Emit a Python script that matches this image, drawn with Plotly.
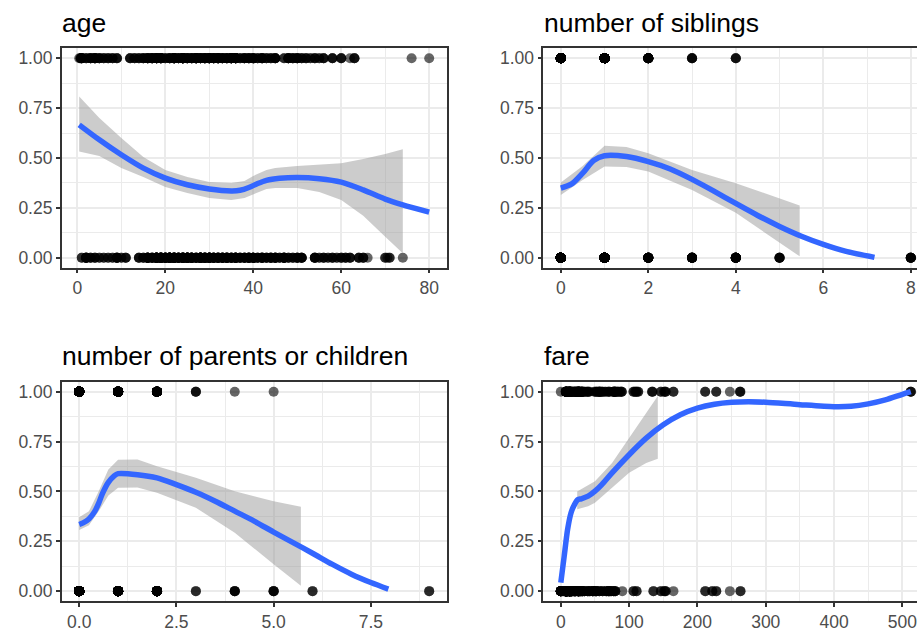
import numpy as np
import plotly.graph_objects as go

# ---------------- data ----------------
# age: points (value, count) for survived (1) and died (0)
age_surv_vals = [0.42, 0.67, 0.83, 0.92, 1, 2, 3, 4, 5, 6, 7, 8, 9, 12, 13, 14, 15, 16, 17, 18, 19, 20,
                 21, 22, 23, 24, 25, 26, 27, 28, 29, 30, 31, 32, 33, 34, 35, 36, 37, 38, 39, 40, 41, 42,
                 43, 44, 45, 47, 48, 49, 50, 51, 52, 53, 54, 55, 56, 58, 60, 62, 63, 76, 80]
age_surv_cnt = [1, 1, 2, 1, 5, 3, 5, 7, 4, 3, 3, 3, 3, 3, 3, 3, 4, 6, 7, 9, 9, 3,
                5, 11, 5, 15, 6, 6, 11, 7, 8, 10, 8, 10, 6, 6, 11, 11, 3, 5, 5, 6, 3, 6,
                3, 3, 5, 2, 6, 4, 5, 3, 3, 2, 3, 2, 3, 3, 3, 1, 3, 1, 1]
age_died_vals = [1, 2, 3, 4, 5, 6, 7, 8, 9, 10, 11, 14, 15, 16, 17, 18, 19, 20, 21, 22, 23, 24, 25, 26,
                 27, 28, 29, 30, 31, 32, 33, 34, 35, 36, 37, 38, 39, 40, 41, 42, 43, 44, 45, 46, 47,
                 48, 49, 50, 51, 54, 55, 56, 57, 58, 59, 60, 61, 62, 64, 65, 66, 70, 70.5, 71, 74]
age_died_cnt = [2, 7, 3, 3, 2, 2, 2, 2, 6, 2, 3, 3, 3, 11, 6, 17, 16, 12, 19, 16, 10, 15, 17, 12,
                7, 18, 12, 15, 9, 9, 9, 10, 7, 11, 5, 6, 9, 9, 4, 7, 4, 6, 7, 3, 8,
                3, 3, 5, 5, 5, 2, 3, 2, 3, 2, 3, 3, 3, 3, 3, 1, 2, 1, 2, 1]

# number of siblings
sib_surv_vals = [0, 1, 2, 3, 4]
sib_surv_cnt = [210, 112, 13, 4, 3]
sib_died_vals = [0, 1, 2, 3, 4, 5, 8]
sib_died_cnt = [398, 97, 15, 12, 15, 5, 7]

# number of parents or children
par_surv_vals = [0, 1, 2, 3, 4, 5]
par_surv_cnt = [233, 65, 40, 3, 1, 1]
par_died_vals = [0, 1, 2, 3, 4, 5, 6, 9]
par_died_cnt = [445, 53, 40, 2, 4, 4, 2, 2]

# fare
fare_surv_vals = [0, 7.25, 7.75, 7.9, 8.05, 9.5, 10.5, 11.13, 12.48, 13, 14.45, 15.25, 16.1, 18.75,
                  20.53, 22.36, 23, 24.15, 26, 26.55, 27.72, 29.7, 30.5, 31.39, 33, 35.5, 39, 41.58,
                  49.5, 52.55, 55.9, 57, 59.4, 61.38, 65, 69.3, 71.28, 76.73, 78.27, 79.2, 80, 83.16,
                  86.5, 89.1, 106.43, 108.9, 110.88, 113.28, 133.65, 134.5, 146.52, 151.55, 153.46,
                  164.87, 211.34, 227.53, 247.52, 262.38, 263, 512.33]
fare_surv_cnt = [1, 3, 6, 4, 5, 2, 3, 3, 2, 12, 2, 3, 3, 3,
                 4, 2, 3, 3, 9, 5, 2, 3, 3, 3, 2, 2, 3, 2,
                 2, 3, 3, 3, 2, 2, 2, 2, 2, 3, 2, 3, 2, 3,
                 2, 3, 2, 2, 2, 2, 2, 1, 2, 2, 2,
                 2, 2, 2, 1, 2, 1, 3]
fare_died_vals = [0, 3, 5, 6.5, 7.05, 7.25, 7.75, 7.9, 8.05, 8.66, 9.5, 10.5, 12.5, 13, 14.5, 15.5,
                  16.1, 18, 20.5, 21, 24.15, 26, 27.72, 29.1, 31.28, 34.38, 39.69, 42.4, 46.9, 50.5,
                  52, 56.5, 61.18, 66.6, 69.55, 71, 73.5, 77.29, 79.65, 90, 106.43, 110.88, 135.63,
                  146.52, 151.55, 153.46, 164.87, 211.5, 221.78, 227.53, 247.52, 263]
fare_died_cnt = [15, 2, 2, 8, 12, 13, 20, 20, 30, 6, 6, 12, 4, 30, 8, 6,
                 6, 4, 6, 6, 5, 16, 4, 4, 6, 4, 4, 3, 6, 3,
                 4, 3, 3, 3, 3, 3, 3, 3, 3, 1, 2, 2, 2,
                 2, 2, 2, 1, 2, 2, 2, 1, 2]

# smooth fits
age_line_x = [0.42, 5, 10, 15, 20, 25, 30, 35, 37, 39, 41, 43, 46, 50, 55, 60, 65, 70, 74, 80]
age_line_y = [0.666, 0.591, 0.516, 0.449, 0.399, 0.366, 0.345, 0.335, 0.338, 0.352, 0.372, 0.388,
              0.398, 0.402, 0.396, 0.379, 0.34, 0.294, 0.265, 0.229]
age_band_x = [0.42, 5, 10, 15, 20, 25, 30, 35, 38, 40, 43, 45, 50, 55, 60, 65, 70, 74]
age_band_hi = [0.808, 0.70, 0.60, 0.505, 0.44, 0.405, 0.38, 0.375, 0.385, 0.41, 0.44, 0.45, 0.46,
               0.466, 0.474, 0.495, 0.52, 0.544]
age_band_lo = [0.532, 0.51, 0.45, 0.405, 0.355, 0.325, 0.30, 0.29, 0.30, 0.32, 0.345, 0.35, 0.35,
               0.33, 0.29, 0.21, 0.105, 0.023]

sib_line_x = [0, 0.25, 0.5, 0.75, 1, 1.5, 2, 2.5, 3, 3.5, 4, 4.5, 5, 5.5, 6, 6.5, 7.17]
sib_line_y = [0.349, 0.37, 0.424, 0.487, 0.511, 0.507, 0.482, 0.445, 0.393, 0.334, 0.272, 0.212,
              0.157, 0.108, 0.067, 0.033, 0.002]
sib_band_x = [0, 0.5, 1, 1.5, 2, 3, 4, 5.46]
sib_band_hi = [0.377, 0.46, 0.562, 0.555, 0.524, 0.44, 0.374, 0.262]
sib_band_lo = [0.315, 0.39, 0.457, 0.455, 0.432, 0.34, 0.225, 0.007]

par_line_x = [0, 0.1, 0.25, 0.4, 0.5, 0.6, 0.75, 0.9, 1, 1.5, 2, 2.5, 3, 3.5, 4, 4.5, 5, 5.5, 6,
              6.5, 7, 7.5, 7.95]
par_line_y = [0.334, 0.342, 0.362, 0.40, 0.44, 0.49, 0.545, 0.578, 0.589, 0.584, 0.568, 0.534,
              0.496, 0.451, 0.401, 0.351, 0.296, 0.243, 0.19, 0.135, 0.085, 0.043, 0.01]
par_band_x = [0, 0.25, 0.5, 0.75, 1, 1.5, 2, 3, 4, 5, 5.7]
par_band_hi = [0.37, 0.40, 0.50, 0.61, 0.659, 0.66, 0.626, 0.568, 0.501, 0.451, 0.423]
par_band_lo = [0.306, 0.33, 0.40, 0.48, 0.518, 0.52, 0.493, 0.418, 0.293, 0.135, 0.027]

fare_line_x = [0, 5, 10, 15, 20, 25, 30, 40, 50, 60, 75, 100, 125, 150, 175, 200, 225, 250, 275,
               300, 350, 400, 425, 450, 475, 500, 512.33]
fare_line_y = [0.043, 0.176, 0.31, 0.393, 0.434, 0.459, 0.463, 0.476, 0.501, 0.534, 0.593, 0.684,
               0.767, 0.834, 0.884, 0.917, 0.937, 0.947, 0.95, 0.947, 0.935, 0.925, 0.927, 0.939,
               0.959, 0.987, 1.0]
fare_band_x = [24, 40, 50, 75, 100, 125, 142]
fare_band_hi = [0.50, 0.529, 0.551, 0.642, 0.767, 0.892, 0.978]
fare_band_lo = [0.41, 0.426, 0.443, 0.518, 0.593, 0.642, 0.664]

titles = ["age", "number of siblings", "number of parents or children", "fare"]

# ---------------- figure ----------------
W, H = 917, 631
fig = go.Figure()

FONT = "Liberation Sans, Arial, Helvetica, sans-serif"
GRID = "#EBEBEB"
DARK = "#333333"

panels = [
    dict(sv=age_surv_vals, sc=age_surv_cnt, dv=age_died_vals, dc=age_died_cnt,
         lx=age_line_x, ly=age_line_y, bx=age_band_x, bh=age_band_hi, bl=age_band_lo),
    dict(sv=sib_surv_vals, sc=sib_surv_cnt, dv=sib_died_vals, dc=sib_died_cnt,
         lx=sib_line_x, ly=sib_line_y, bx=sib_band_x, bh=sib_band_hi, bl=sib_band_lo),
    dict(sv=par_surv_vals, sc=par_surv_cnt, dv=par_died_vals, dc=par_died_cnt,
         lx=par_line_x, ly=par_line_y, bx=par_band_x, bh=par_band_hi, bl=par_band_lo),
    dict(sv=fare_surv_vals, sc=fare_surv_cnt, dv=fare_died_vals, dc=fare_died_cnt,
         lx=fare_line_x, ly=fare_line_y, bx=fare_band_x, bh=fare_band_hi, bl=fare_band_lo),
]

# pixel geometry of panels (left, top); right column clipped at page edge
px_left = [61.7, 543.3, 61.7, 543.3]
px_top = [48.3, 48.3, 381.7, 381.7]
panel_w, panel_h = 385.0, 219.4
full_ranges = [(-3.56, 83.98), (-0.4, 8.4), (-0.45, 9.45), (-25.62, 537.95)]
major = [20, 2, 2.5, 100]
tfmt = ["d", "d", ".1f", "d"]

for i, p in enumerate(panels):
    ax = "" if i == 0 else str(i + 1)
    xref, yref = "x" + ax, "y" + ax
    xs = np.repeat(p["sv"], p["sc"])
    xd = np.repeat(p["dv"], p["dc"])
    pts_x = np.concatenate([xs, xd])
    pts_y = np.concatenate([np.ones(len(xs)), np.zeros(len(xd))])
    fig.add_trace(go.Scatter(x=pts_x, y=pts_y, mode="markers", xaxis=xref, yaxis=yref,
                             marker=dict(color="black", opacity=0.6, size=10, line=dict(width=0)),
                             showlegend=False, hoverinfo="skip"))
    bx = list(p["bx"])
    fig.add_trace(go.Scatter(x=bx + bx[::-1], y=list(p["bh"]) + list(p["bl"])[::-1],
                             fill="toself", fillcolor="rgba(153,153,153,0.5)",
                             line=dict(width=0), mode="lines", xaxis=xref, yaxis=yref,
                             showlegend=False, hoverinfo="skip"))
    fig.add_trace(go.Scatter(x=p["lx"], y=p["ly"], mode="lines", xaxis=xref, yaxis=yref,
                             line=dict(color="#3366FF", width=5.5, shape="spline", smoothing=0.8),
                             showlegend=False, hoverinfo="skip"))

    l = px_left[i]
    r = min(l + panel_w, W)
    t = px_top[i]
    b = t + panel_h
    r0, r1 = full_ranges[i]
    vis_r1 = r0 + (r1 - r0) * (r - l) / panel_w
    right_col = i in (1, 3)

    xa = dict(domain=[l / W, r / W], range=[r0, vis_r1], anchor=yref,
              showline=True, linecolor=DARK, linewidth=1.5, mirror=True,
              ticks="outside", ticklen=4, tickwidth=1.5, tickcolor=DARK,
              tickfont=dict(family=FONT, size=17.5, color="#4D4D4D"),
              tick0=0, dtick=major[i], tickformat=tfmt[i], ticklabeloverflow="allow",
              showgrid=True, gridcolor=GRID, gridwidth=1.6, zeroline=False,
              minor=dict(tick0=0, dtick=major[i] / 2, showgrid=True, gridcolor=GRID, gridwidth=0.8))
    ya = dict(domain=[1 - b / H, 1 - t / H], range=[-0.05, 1.05], anchor=xref,
              showline=True, linecolor=DARK, linewidth=1.5, mirror=not right_col,
              ticks="outside", ticklen=4, tickwidth=1.5, tickcolor=DARK,
              tickfont=dict(family=FONT, size=17.5, color="#4D4D4D"),
              tick0=0, dtick=0.25, tickformat=".2f",
              showgrid=True, gridcolor=GRID, gridwidth=1.6, zeroline=False,
              minor=dict(tick0=0, dtick=0.125, showgrid=True, gridcolor=GRID, gridwidth=0.8))
    fig.layout["xaxis" + ax] = xa
    fig.layout["yaxis" + ax] = ya

    base = 31 if i < 2 else 364
    fig.add_annotation(text=titles[i], xref="paper", yref="paper",
                       x=(l - 1.5) / W, y=1 - (base + 9) / H, xanchor="left", yanchor="bottom",
                       showarrow=False, font=dict(family=FONT, size=26.5, color="black"))

fig.update_layout(width=W, height=H, margin=dict(l=0, r=0, t=0, b=0), autosize=False,
                  paper_bgcolor="white", plot_bgcolor="white",
                  font=dict(family=FONT))

fig.write_html("out.html")
